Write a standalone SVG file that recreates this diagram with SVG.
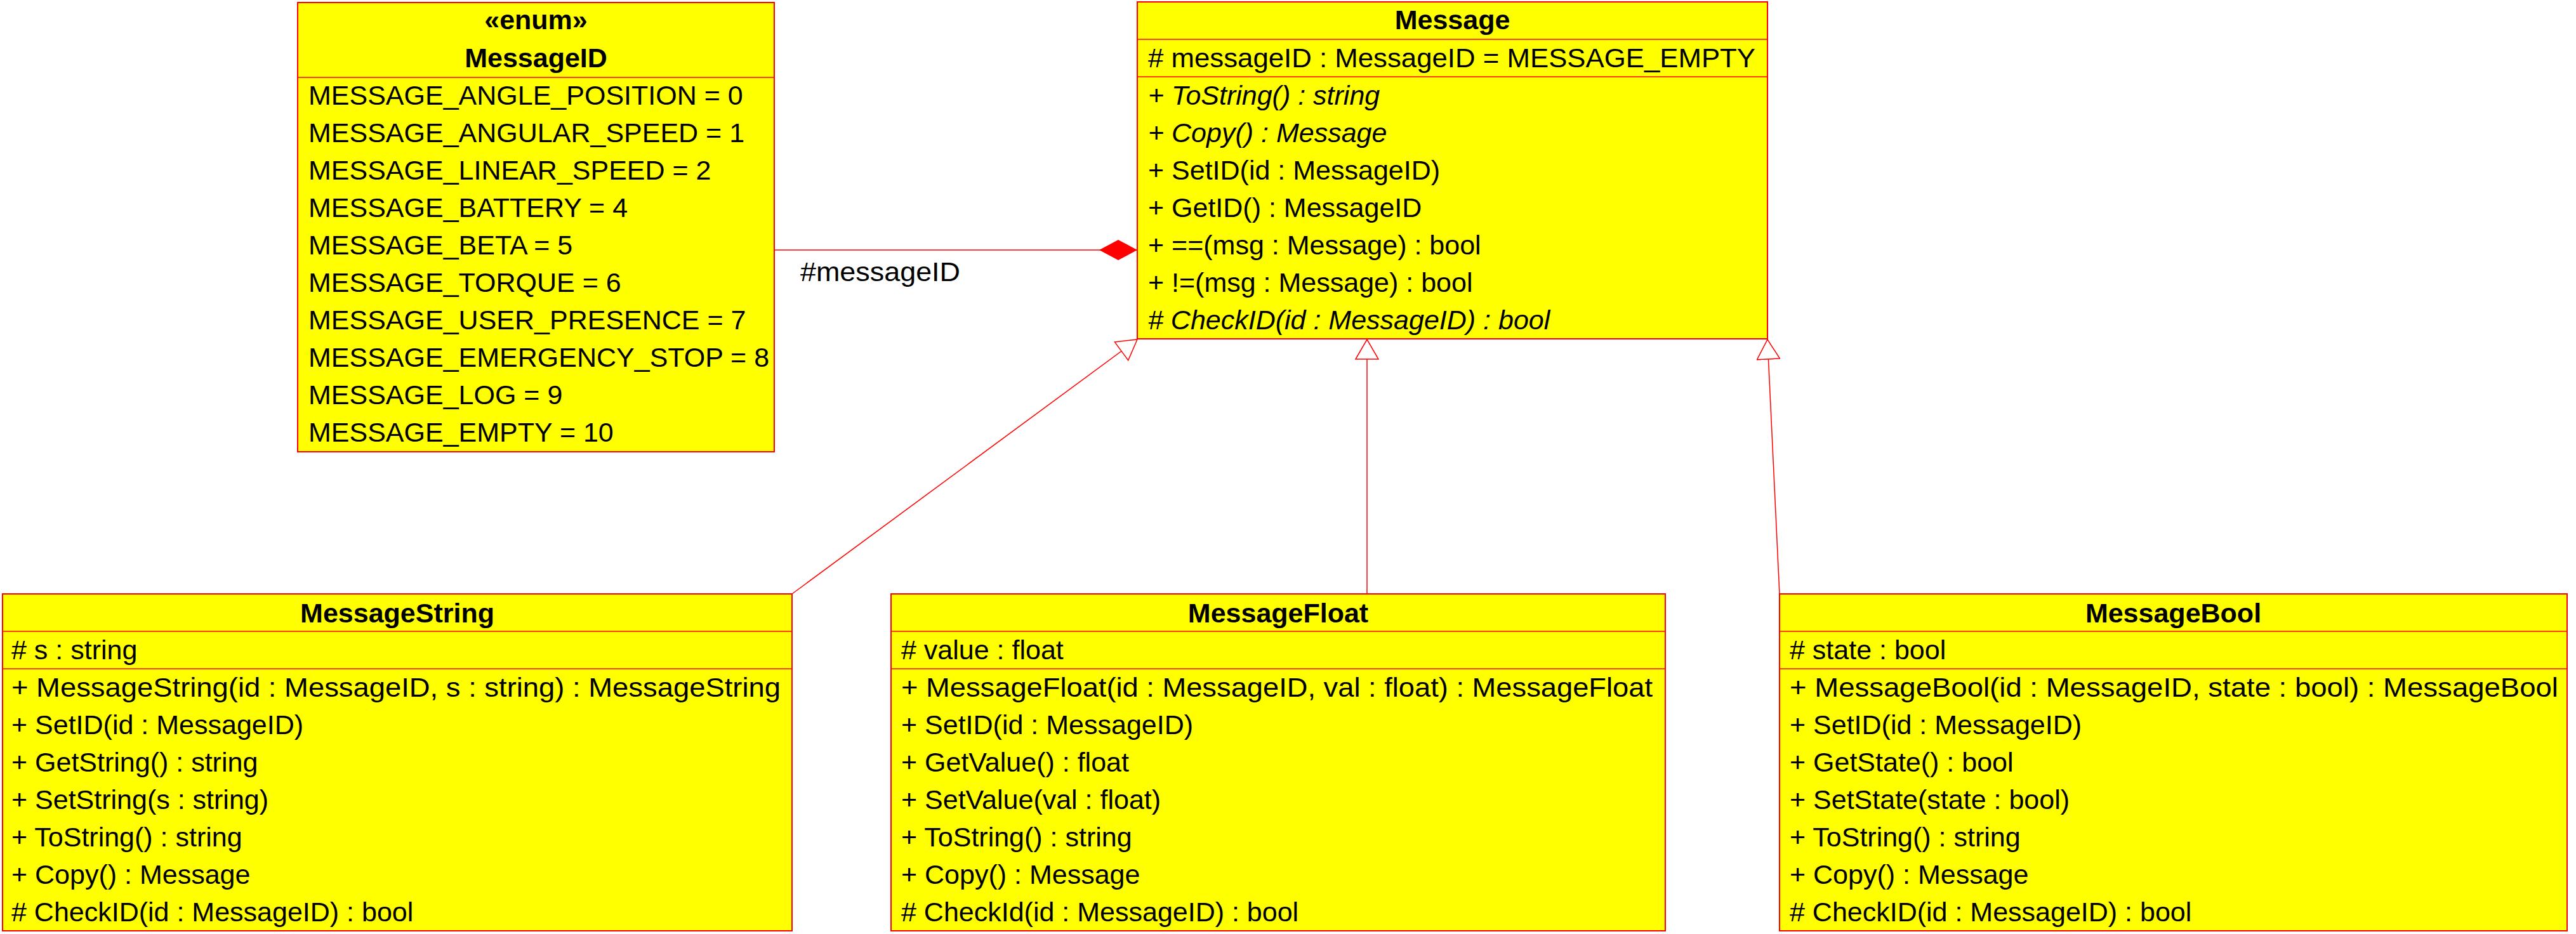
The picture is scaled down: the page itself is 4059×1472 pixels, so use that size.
<svg xmlns="http://www.w3.org/2000/svg" width="4059" height="1472" viewBox="0 0 4059 1472">
<style>
.box{fill:#ffff00;stroke:#ff0000;stroke-width:2}
.dv{stroke:#ff0000;stroke-width:1.5}
text{font-family:"Liberation Sans",Arial,sans-serif;font-size:43px;fill:#000}
.t{font-weight:bold;text-anchor:middle}
.i{font-style:italic}
.conn{stroke:#ff0000;stroke-width:1.5;fill:none}
</style>
<defs>
<marker id="gen" markerUnits="userSpaceOnUse" viewBox="0 0 33 38" markerWidth="33" markerHeight="38" refX="32" refY="19" orient="auto">
<path d="M1,1 L32,19 L1,37 Z" fill="#ffffff" stroke="#ff0000" stroke-width="1.5"/>
</marker>
<marker id="comp" markerUnits="userSpaceOnUse" viewBox="0 0 60 32" markerWidth="60" markerHeight="32" refX="60" refY="16" orient="auto">
<path d="M0,16 L30,0 L60,16 L30,32 Z" fill="#ff0000"/>
</marker>
</defs>
<rect width="4059" height="1472" fill="#ffffff"/>
<g id="connectors">
<path class="conn" d="M1220,394 L1792,394" marker-end="url(#comp)"/>
<text x="1261" y="443" textLength="252" lengthAdjust="spacingAndGlyphs">#messageID</text>
<path class="conn" d="M1248,936 L1792,535" marker-end="url(#gen)"/>
<path class="conn" d="M2154,936 L2154,535" marker-end="url(#gen)"/>
<path class="conn" d="M2804,936 L2785,535" marker-end="url(#gen)"/>
</g>
<g id="MessageID">
<rect class="box" x="469" y="4" width="751" height="708"/>
<line class="dv" x1="469" y1="122" x2="1220" y2="122"/>
<text class="t" x="844.5" y="46">«enum»</text>
<text class="t" x="844.5" y="106">MessageID</text>
<text x="486" y="165">MESSAGE_ANGLE_POSITION = 0</text>
<text x="486" y="224">MESSAGE_ANGULAR_SPEED = 1</text>
<text x="486" y="283">MESSAGE_LINEAR_SPEED = 2</text>
<text x="486" y="342">MESSAGE_BATTERY = 4</text>
<text x="486" y="401">MESSAGE_BETA = 5</text>
<text x="486" y="460">MESSAGE_TORQUE = 6</text>
<text x="486" y="519">MESSAGE_USER_PRESENCE = 7</text>
<text x="486" y="578">MESSAGE_EMERGENCY_STOP = 8</text>
<text x="486" y="637">MESSAGE_LOG = 9</text>
<text x="486" y="696">MESSAGE_EMPTY = 10</text>
</g>
<g id="Message">
<rect class="box" x="1792" y="3" width="993" height="531"/>
<line class="dv" x1="1792" y1="62" x2="2785" y2="62"/>
<line class="dv" x1="1792" y1="121" x2="2785" y2="121"/>
<text class="t" x="2288.5" y="46">Message</text>
<text x="1809" y="106" textLength="957" lengthAdjust="spacingAndGlyphs"># messageID : MessageID = MESSAGE_EMPTY</text>
<text class="i" x="1809" y="165">+ ToString() : string</text>
<text class="i" x="1809" y="224">+ Copy() : Message</text>
<text x="1809" y="283">+ SetID(id : MessageID)</text>
<text x="1809" y="342">+ GetID() : MessageID</text>
<text x="1809" y="401">+ ==(msg : Message) : bool</text>
<text x="1809" y="460">+ !=(msg : Message) : bool</text>
<text class="i" x="1809" y="519"># CheckID(id : MessageID) : bool</text>
</g>
<g id="MessageString">
<rect class="box" x="4" y="936" width="1244" height="531"/>
<line class="dv" x1="4" y1="995" x2="1248" y2="995"/>
<line class="dv" x1="4" y1="1054" x2="1248" y2="1054"/>
<text class="t" x="626" y="981">MessageString</text>
<text x="18" y="1039"># s : string</text>
<text x="18" y="1098" textLength="1212" lengthAdjust="spacingAndGlyphs">+ MessageString(id : MessageID, s : string) : MessageString</text>
<text x="18" y="1157">+ SetID(id : MessageID)</text>
<text x="18" y="1216">+ GetString() : string</text>
<text x="18" y="1275">+ SetString(s : string)</text>
<text x="18" y="1334">+ ToString() : string</text>
<text x="18" y="1393">+ Copy() : Message</text>
<text x="18" y="1452"># CheckID(id : MessageID) : bool</text>
</g>
<g id="MessageFloat">
<rect class="box" x="1404" y="936" width="1220" height="531"/>
<line class="dv" x1="1404" y1="995" x2="2624" y2="995"/>
<line class="dv" x1="1404" y1="1054" x2="2624" y2="1054"/>
<text class="t" x="2014" y="981">MessageFloat</text>
<text x="1420" y="1039"># value : float</text>
<text x="1420" y="1098" textLength="1184" lengthAdjust="spacingAndGlyphs">+ MessageFloat(id : MessageID, val : float) : MessageFloat</text>
<text x="1420" y="1157">+ SetID(id : MessageID)</text>
<text x="1420" y="1216">+ GetValue() : float</text>
<text x="1420" y="1275">+ SetValue(val : float)</text>
<text x="1420" y="1334">+ ToString() : string</text>
<text x="1420" y="1393">+ Copy() : Message</text>
<text x="1420" y="1452"># CheckId(id : MessageID) : bool</text>
</g>
<g id="MessageBool">
<rect class="box" x="2804" y="936" width="1241" height="531"/>
<line class="dv" x1="2804" y1="995" x2="4045" y2="995"/>
<line class="dv" x1="2804" y1="1054" x2="4045" y2="1054"/>
<text class="t" x="3424.5" y="981">MessageBool</text>
<text x="2820" y="1039"># state : bool</text>
<text x="2820" y="1098" textLength="1211" lengthAdjust="spacingAndGlyphs">+ MessageBool(id : MessageID, state : bool) : MessageBool</text>
<text x="2820" y="1157">+ SetID(id : MessageID)</text>
<text x="2820" y="1216">+ GetState() : bool</text>
<text x="2820" y="1275">+ SetState(state : bool)</text>
<text x="2820" y="1334">+ ToString() : string</text>
<text x="2820" y="1393">+ Copy() : Message</text>
<text x="2820" y="1452"># CheckID(id : MessageID) : bool</text>
</g>
</svg>
